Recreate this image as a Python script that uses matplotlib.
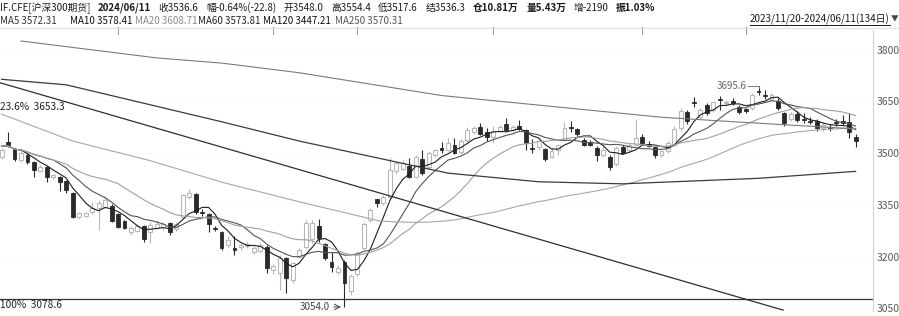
import numpy as np
import pandas as pd
import matplotlib
matplotlib.use('Agg')
import matplotlib.pyplot as plt
from matplotlib.lines import Line2D
import matplotlib.transforms as mtransforms

plt.rcParams['font.family'] = ['Noto Sans CJK SC', 'DejaVu Sans']

# IF.CFE daily bars, 2023/11/20 - 2024/06/11 (134 days)
opens = [3540, 3488, 3533, 3511, 3480, 3495, 3473, 3449, 3461, 3430,
         3430, 3419, 3384, 3316, 3318, 3330, 3340, 3345, 3348, 3324,
         3303, 3272, 3275, 3289, 3272, 3284, 3285, 3297, 3280, 3316,
         3372, 3382, 3330, 3324, 3283, 3272, 3234, 3224, 3227, 3230,
         3214, 3216, 3229, 3160, 3152, 3195, 3132, 3200, 3229, 3250,
         3290, 3236, 3185, 3156, 3185, 3100, 3150, 3225, 3305, 3366,
         3355, 3374, 3448, 3455, 3463, 3432, 3482, 3461, 3496, 3514,
         3510, 3524, 3502, 3538, 3562, 3575, 3561, 3548, 3565, 3584,
         3567, 3580, 3567, 3514, 3517, 3512, 3490, 3509, 3538, 3577,
         3569, 3538, 3533, 3514, 3495, 3490, 3468, 3519, 3509, 3525,
         3548, 3527, 3519, 3496, 3505, 3525, 3572, 3620, 3649, 3606,
         3640, 3625, 3658, 3644, 3652, 3633, 3627, 3630, 3680, 3668,
         3657, 3652, 3617, 3598, 3612, 3598, 3593, 3593, 3572, 3575,
         3591, 3594, 3591, 3548.0]
highs = [3552, 3515, 3562, 3515, 3505, 3500, 3476, 3465, 3463, 3440,
         3433, 3421, 3386, 3330, 3330, 3359, 3364, 3375, 3352, 3326,
         3305, 3290, 3295, 3292, 3300, 3305, 3300, 3300, 3300, 3382,
         3395, 3385, 3338, 3326, 3290, 3275, 3259, 3259, 3240, 3245,
         3230, 3240, 3235, 3180, 3205, 3200, 3185, 3225, 3306, 3305,
         3310, 3240, 3214, 3175, 3190, 3150, 3215, 3300, 3340, 3368,
         3380, 3485, 3478, 3480, 3485, 3495, 3509, 3505, 3512, 3533,
         3545, 3545, 3540, 3575, 3580, 3588, 3572, 3578, 3582, 3603,
         3582, 3596, 3570, 3540, 3540, 3515, 3515, 3527, 3590, 3592,
         3572, 3545, 3537, 3520, 3520, 3495, 3522, 3525, 3528, 3600,
         3556, 3535, 3522, 3510, 3535, 3578, 3630, 3626, 3664, 3630,
         3645, 3652, 3665, 3655, 3660, 3640, 3632, 3675, 3695.6, 3682,
         3675, 3660, 3620, 3620, 3622, 3615, 3605, 3598, 3590, 3585,
         3598, 3610, 3615, 3554.4]
lows = [3520, 3482, 3517, 3478, 3475, 3468, 3431, 3445, 3417, 3425,
        3391, 3385, 3312, 3310, 3315, 3325, 3277, 3340, 3300, 3283,
        3280, 3262, 3270, 3243, 3240, 3280, 3278, 3262, 3275, 3312,
        3368, 3325, 3318, 3271, 3275, 3220, 3225, 3205, 3220, 3225,
        3208, 3210, 3152, 3150, 3103, 3094, 3125, 3195, 3225, 3240,
        3243, 3190, 3156, 3150, 3054, 3090, 3145, 3220, 3300, 3345,
        3350, 3368, 3440, 3450, 3427, 3428, 3438, 3455, 3490, 3500,
        3505, 3497, 3498, 3532, 3555, 3552, 3535, 3530, 3560, 3565,
        3560, 3566, 3509, 3500, 3510, 3478, 3485, 3495, 3535, 3560,
        3550, 3520, 3520, 3478, 3490, 3450, 3462, 3498, 3502, 3520,
        3525, 3518, 3487, 3488, 3500, 3520, 3565, 3585, 3635, 3600,
        3610, 3620, 3625, 3638, 3640, 3612, 3615, 3625, 3668, 3656,
        3650, 3625, 3580, 3592, 3590, 3586, 3585, 3565, 3565, 3565,
        3580, 3582, 3543, 3517.6]
closes = [3530, 3510, 3524, 3482, 3500, 3475, 3451, 3460, 3432, 3437,
          3417, 3393, 3316, 3326, 3326, 3341, 3356, 3364, 3304, 3287,
          3284, 3282, 3289, 3250, 3292, 3295, 3295, 3272, 3295, 3379,
          3384, 3330, 3326, 3294, 3280, 3224, 3248, 3219, 3234, 3237,
          3224, 3234, 3166, 3172, 3195, 3137, 3182, 3219, 3297, 3298,
          3253, 3195, 3171, 3166, 3123, 3145, 3210, 3295, 3335, 3355,
          3374, 3450, 3470, 3472, 3430, 3488, 3443, 3500, 3508, 3508,
          3530, 3500, 3535, 3568, 3572, 3556, 3546, 3565, 3575, 3567,
          3576, 3570, 3528, 3511, 3535, 3482, 3505, 3524, 3572, 3573,
          3556, 3524, 3524, 3495, 3510, 3461, 3515, 3501, 3525, 3545,
          3529, 3522, 3496, 3505, 3528, 3570, 3622, 3592, 3644, 3625,
          3616, 3649, 3654, 3649, 3644, 3618, 3623, 3668, 3678, 3666,
          3669, 3630, 3587, 3612, 3596, 3596, 3590, 3572, 3582, 3574,
          3586, 3586, 3562, 3536.6]

# longer moving averages (candle index, value)
ma60_early_idx = [1, 12, 24, 35, 47]
ma60_early_val = [3613, 3535, 3478, 3416, 3359]
ma120_idx = [1, 11, 35, 47, 70, 84, 97, 118, 133]
ma120_val = [3714, 3698, 3591, 3535, 3442, 3417, 3411, 3427, 3447.2]
ma250_idx = [4, 25, 35, 47, 69, 103, 115, 133]
ma250_val = [3825, 3776, 3761, 3733, 3667, 3604, 3590, 3570.3]

# hand-drawn trend line (index, price)
trend_idx = [0.76, 121.8]
trend_val = [3704, 3045]

fib_labels = ['23.6%  3653.3', '100%  3078.6']
fib_vals = [3653.3, 3078.6]
y_ticks = [3800, 3650, 3500, 3350, 3200, 3050]
event_days = [19, 43, 56, 77, 100, 116]

W, H = 899, 316
fig = plt.figure(figsize=(W / 100, H / 100), dpi=100)
ax = fig.add_axes([0, (H - 311) / H, 873 / W, (311 - 30) / H])

o, h, l, c = map(np.array, (opens, highs, lows, closes))
idx = np.arange(len(c))
up = c > o
dn = ~up

gray_c = '#b8b8b8'
dark_c = '#2a2a2a'
ax.vlines(idx[up], l[up], h[up], color=gray_c, lw=0.8, zorder=2)
ax.vlines(idx[dn], l[dn], h[dn], color=dark_c, lw=0.8, zorder=2)
ax.bar(idx[up], np.maximum(c[up] - o[up], 1.5), bottom=o[up], width=0.6,
       color='white', edgecolor=gray_c, lw=0.8, zorder=3)
ax.bar(idx[dn], np.maximum(o[dn] - c[dn], 1.5), bottom=c[dn], width=0.6,
       color=dark_c, edgecolor=dark_c, lw=0.6, zorder=3)

s = pd.Series(c)
ma5 = s.rolling(5, min_periods=1).mean()
ma10 = s.rolling(10, min_periods=1).mean()
ma20 = s.rolling(20, min_periods=1).mean()
ma60 = s.rolling(60).mean()
ma60_x = ma60_early_idx + list(idx[59:])
ma60_y = ma60_early_val + list(ma60.values[59:])

ax.plot(idx[1:], ma5[1:], color='#1e1e1e', lw=0.8, zorder=4)
ax.plot(idx[1:], ma10[1:], color='#555555', lw=0.8, zorder=4)
ax.plot(idx[1:], ma20[1:], color='#a0a0a0', lw=0.8, zorder=4)
ax.plot(ma60_x, ma60_y, color='#a8a8a8', lw=0.8, zorder=4)
ax.plot(ma120_idx, ma120_val, color='#3a3a3a', lw=0.9, zorder=4)
ax.plot(ma250_idx, ma250_val, color='#7a7a7a', lw=0.8, zorder=4)
ax.plot(trend_idx, trend_val, color='#2e2e2e', lw=0.9, zorder=4)

# fibonacci 100% line and labels
ax.axhline(fib_vals[1], color='#333333', lw=0.9, zorder=1)
for lab, v in zip(fib_labels, fib_vals):
    ax.text(0.8, v - 4, lab, fontsize=7.3, color='#222222', va='top', ha='left')

# high / low marks
hi_i = int(np.argmax(h))
lo_i = int(np.argmin(l))
ax.text(hi_i - 1.8, h[hi_i], '%.1f' % h[hi_i], fontsize=7, color='#666666',
        ha='right', va='center')
ax.plot([hi_i - 1.7, hi_i, hi_i], [h[hi_i], h[hi_i], h[hi_i] - 8],
        color='#777777', lw=0.7, zorder=5)
ax.text(lo_i - 2.2, l[lo_i], '%.1f' % l[lo_i], fontsize=7, color='#444444',
        ha='right', va='center', clip_on=False)
ax.annotate('', xy=(lo_i - 0.1, l[lo_i]), xytext=(lo_i - 2.1, l[lo_i]),
            arrowprops=dict(arrowstyle='->', color='#444444', lw=0.7),
            annotation_clip=False)

ax.set_xlim(0.757, 135.69)
ax.set_ylim(3042.4, 3856.9)
ax.set_xticks([])
ax.yaxis.tick_right()
ax.set_yticks(y_ticks)
ax.set_yticklabels([str(t) for t in y_ticks])
ax.tick_params(axis='y', length=0, pad=3, labelsize=7.5, labelcolor='#5a5a5a')
for t in ax.get_yticklabels():
    t.set_clip_on(False)
ax.grid(axis='y', color='#ececec', lw=0.6, ls=(0, (1, 3)))
for sp in ['top', 'left', 'bottom']:
    ax.spines[sp].set_visible(False)
ax.spines['right'].set_color('#d0d0d0')
ax.spines['right'].set_linewidth(0.8)

# event markers on the top edge
blend = mtransforms.blended_transform_factory(ax.transData, fig.transFigure)
for d in event_days:
    ax.add_line(Line2D([d, d], [1 - 27 / H, 1 - 34 / H], transform=blend,
                       color='#9a9a9a', lw=0.8, clip_on=False))


def ftext(x, y, txt, **kw):
    return fig.text(x / W, 1 - y / H, txt, va='center', **kw)


# header line 1, laid out left to right
head1 = [('IF.CFE[沪深300期货]', 'normal'), ('2024/06/11', 'bold'),
         ('收3536.6', 'normal'), ('幅-0.64%(-22.8)', 'normal'),
         ('开3548.0', 'normal'), ('高3554.4', 'normal'),
         ('低3517.6', 'normal'), ('结3536.3', 'normal'),
         ('仓10.81万', 'bold'), ('量5.43万', 'bold'),
         ('增-2190', 'normal'), ('振1.03%', 'bold')]
renderer = fig.canvas.get_renderer()
xpos = 0.0
for txt, wgt in head1:
    t = ftext(xpos, 8, txt, fontsize=7.0, color='#1a1a1a', fontweight=wgt)
    xpos += t.get_window_extent(renderer).width + 7.5

# header line 2: MA values
head2 = [(0, 'MA5 3572.31', '#333333'),
         (70, 'MA10 3578.41', '#111111'),
         (135, 'MA20 3608.71', '#8a8a8a'),
         (198, 'MA60 3573.81', '#222222'),
         (263, 'MA120 3447.21', '#111111'),
         (335, 'MA250 3570.31', '#555555')]
for x, txt, col in head2:
    ftext(x, 21, txt, fontsize=7.0, color=col)

dt = ftext(750, 19, '2023/11/20-2024/06/11(134日)', fontsize=7.1, color='#1a1a1a')
dw = dt.get_window_extent(renderer).width
fig.add_artist(Line2D([750 / W, (750 + dw) / W], [1 - 25 / H, 1 - 25 / H],
                      color='#1a1a1a', lw=0.7))
ftext(898, 19, '▼', fontsize=5.5, color='#444444', ha='right')
fig.add_artist(Line2D([0, 1], [1 - 28 / H, 1 - 28 / H], color='#e2e2e2', lw=0.8))

fig.savefig('out.png', dpi=100, facecolor='white')
